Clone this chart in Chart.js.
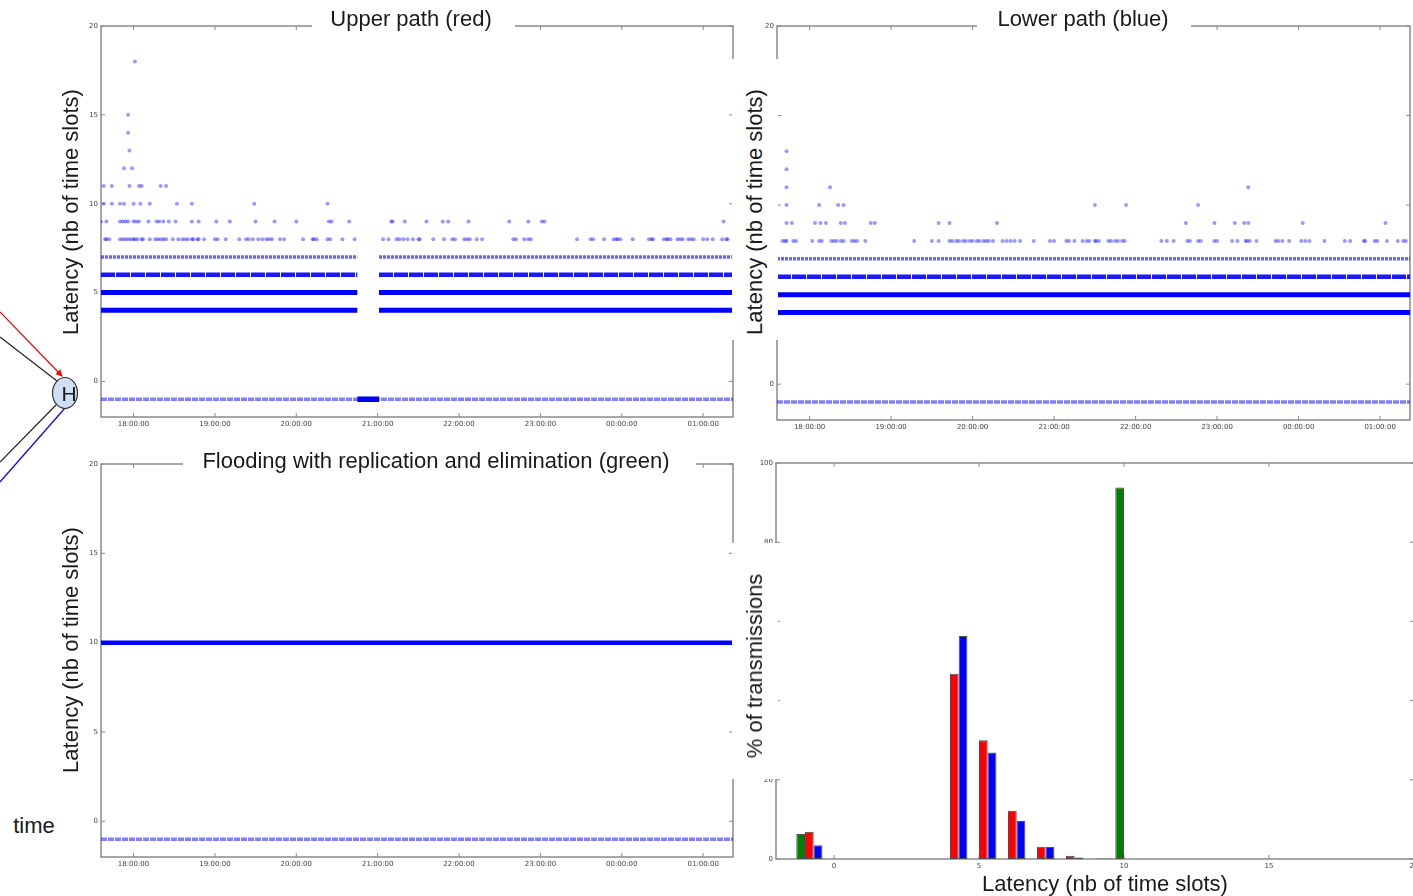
<!DOCTYPE html>
<html>
<head>
<meta charset="utf-8">
<script src="https://cdn.jsdelivr.net/npm/chart.js@4.4.0/dist/chart.umd.min.js"></script>
<style>
  html, body { margin: 0; padding: 0; width: 1413px; height: 896px; overflow: hidden; background: #fff; }
  body { position: relative; font-family: "Liberation Sans", Arial, sans-serif; color: #1a1a1a; }
  canvas { position: absolute; }
  .mask { position: absolute; background: #fff; }
  .txt { position: absolute; font-size: 22px; line-height: 26px; white-space: nowrap; transform: translate(-50%, -50%); }
  .rot { transform: translate(-50%, -50%) rotate(-90deg); }
</style>
</head>
<body>
<canvas id="upper" width="663" height="421" style="left:80px;top:16px"></canvas>
<canvas id="flood" width="663" height="423" style="left:80px;top:454px"></canvas>
<canvas id="lower" width="664" height="424" style="left:756px;top:16px"></canvas>
<canvas id="hist" width="669" height="426" style="left:755px;top:453px"></canvas>

<div class="mask" style="left:312px;top:8px;width:203px;height:24px"></div>
<div class="mask" style="left:977px;top:8px;width:214px;height:24px"></div>
<div class="mask" style="left:183px;top:451px;width:513px;height:24px"></div>
<div class="mask" style="left:732px;top:59px;width:46px;height:281px"></div>
<div class="mask" style="left:732px;top:543px;width:46px;height:236px"></div>

<div class="txt" style="left:411px;top:19px">Upper path (red)</div>
<div class="txt" style="left:1083px;top:19px">Lower path (blue)</div>
<div class="txt" style="left:436px;top:461px">Flooding with replication and elimination (green)</div>
<div class="txt rot" style="left:71px;top:212px">Latency (nb of time slots)</div>
<div class="txt rot" style="left:755px;top:212px">Latency (nb of time slots)</div>
<div class="txt rot" style="left:71px;top:650px">Latency (nb of time slots)</div>
<div class="txt rot" style="left:755px;top:666px">% of transmissions</div>
<div class="txt" style="left:1105px;top:884px">Latency (nb of time slots)</div>
<div class="txt" style="left:34px;top:826px">time</div>

<svg style="position:absolute;left:0;top:0" width="90" height="500">
  <defs>
    <marker id="ah" markerWidth="7" markerHeight="7" refX="6" refY="3.5" orient="auto" markerUnits="userSpaceOnUse">
      <path d="M0,0 L7,3.5 L0,7 z" fill="#ff0000"/>
    </marker>
  </defs>
  <line x1="0" y1="337" x2="57" y2="381" stroke="#222" stroke-width="1.2"/>
  <line x1="0" y1="312" x2="62" y2="376" stroke="#ff0000" stroke-width="1.2" marker-end="url(#ah)"/>
  <line x1="56" y1="405" x2="0" y2="462" stroke="#222" stroke-width="1.2"/>
  <line x1="65" y1="408" x2="0" y2="482" stroke="#0000ff" stroke-width="1.2"/>
  <ellipse cx="65" cy="393" rx="12.5" ry="15.5" fill="#cfe0f2" stroke="#333" stroke-width="1.2"/>
  <text x="69" y="401" font-size="21" font-family="Liberation Sans, Arial, sans-serif" text-anchor="middle" fill="#1a1a1a">H</text>
</svg>

<script>
// --- axes ---
const hourTicks = ['18:00:00', '19:00:00', '20:00:00', '21:00:00', '22:00:00', '23:00:00', '00:00:00', '01:00:00'];
const timeRange = ['17:36', '01:22'];
const latencyTicks = [0, 5, 10, 15, 20];

// --- upper path (red): dense bands + sparse outliers ---
const upperDenseSpans = [['17:36', '20:45'], ['21:01', '01:22']];
const upperDenseLatencies = [4, 5, 6, 7];
const upperLossSpans = [['17:36', '01:22']];
const upperLossBurst = [['20:45', '21:01']];
const upperLat8 = ['17:39', '17:40', '17:42', '17:50', '17:52', '17:54', '17:56', '17:58', '18:00', '18:01', '18:03', '18:06', '18:07', '18:12', '18:16', '18:18', '18:20', '18:22', '18:24', '18:29', '18:33', '18:36', '18:38', '18:40', '18:43', '18:44', '18:47', '18:48', '18:52', '19:00', '19:02', '19:08', '19:18', '19:23', '19:25', '19:28', '19:32', '19:35', '19:38', '19:40', '19:42', '19:48', '19:51', '20:05', '20:12', '20:13', '20:15', '20:23', '20:25', '20:34', '20:43', '21:04', '21:08', '21:14', '21:16', '21:19', '21:22', '21:26', '21:30', '21:31', '21:41', '21:49', '21:55', '21:57', '22:04', '22:06', '22:08', '22:13', '22:17', '22:40', '22:42', '22:48', '22:51', '22:53', '23:27', '23:37', '23:39', '23:47', '23:54', '23:56', '23:57', '23:59', '00:08', '00:20', '00:22', '00:23', '00:31', '00:33', '00:34', '00:36', '00:41', '00:43', '00:45', '00:49', '00:51', '00:53', '01:00', '01:03', '01:07', '01:14', '01:17', '01:18'];
const upperLat9 = ['17:36', '17:40', '17:50', '17:52', '17:54', '17:56', '18:00', '18:02', '18:04', '18:11', '18:17', '18:19', '18:22', '18:26', '18:31', '18:43', '18:48', '19:01', '19:11', '19:30', '19:44', '20:00', '20:24', '20:26', '20:39', '21:10', '21:11', '21:20', '21:36', '21:48', '21:52', '22:07', '22:37', '22:51', '23:01', '23:03', '01:15'];
const upperLat10 = ['17:38', '17:44', '17:50', '17:53', '18:00', '18:05', '18:12', '18:32', '18:43', '19:29', '20:23'];
const upperLat11 = ['17:38', '17:44', '17:57', '18:04', '18:06', '18:20', '18:24'];
const upperLat12 = ['17:53', '17:59'];
const upperLat13 = ['17:57'];
const upperLat14 = ['17:56'];
const upperLat15 = ['17:56'];
const upperLat18 = ['18:01'];

// --- lower path (blue) ---
const lowerDenseSpans = [['17:36', '01:22']];
const lowerDenseLatencies = [4, 5, 6, 7];
const lowerLossSpans = [['17:36', '01:22']];
const lowerLat8 = ['17:40', '17:42', '17:43', '17:48', '17:50', '18:02', '18:07', '18:09', '18:16', '18:18', '18:20', '18:23', '18:25', '18:31', '18:33', '18:35', '18:41', '19:17', '19:30', '19:35', '19:43', '19:45', '19:48', '19:50', '19:53', '19:55', '19:58', '20:00', '20:03', '20:05', '20:08', '20:10', '20:12', '20:15', '20:22', '20:25', '20:28', '20:31', '20:35', '20:45', '20:57', '21:00', '21:09', '21:11', '21:15', '21:21', '21:24', '21:26', '21:30', '21:31', '21:33', '21:40', '21:42', '21:45', '21:47', '21:50', '21:52', '22:19', '22:23', '22:28', '22:38', '22:40', '22:46', '22:48', '22:58', '23:00', '23:11', '23:15', '23:21', '23:22', '23:24', '23:29', '23:43', '23:45', '23:48', '23:53', '00:02', '00:05', '00:08', '00:19', '00:34', '00:38', '00:48', '00:49', '00:56', '00:58', '01:05', '01:13', '01:17', '01:19'];
const lowerLat9 = ['17:43', '17:47', '18:04', '18:08', '18:12', '18:23', '18:26', '18:45', '18:48', '19:35', '19:43', '20:18', '22:37', '22:58', '23:13', '23:20', '23:23', '00:03', '01:04'];
const lowerLat10 = ['17:43', '18:07', '18:21', '18:25', '21:30', '21:53', '22:46'];
const lowerLat11 = ['17:43', '18:15', '23:23'];
const lowerLat12 = ['17:43'];
const lowerLat13 = ['17:43'];

// --- flooding (green) ---
const floodDenseSpans = [['17:36', '01:22']];
const floodDenseLatencies = [10];
const floodLossSpans = [['17:36', '01:22']];

// --- histogram (% of transmissions per latency) ---
const histBins = [-1, 0, 1, 2, 3, 4, 5, 6, 7, 8, 9, 10];
const floodPct = [6.3, 0, 0, 0, 0, 0, 0, 0, 0, 0, 0, 93.8];
const upperPct = [6.9, 0, 0, 0, 0, 46.8, 30.0, 12.2, 3.1, 0.8, 0.1, 0];
const lowerPct = [3.5, 0, 0, 0, 0, 56.3, 26.9, 9.6, 3.0, 0.4, 0.1, 0];
const histXTicks = [0, 5, 10, 15, 20];
const histYTicks = [0, 20, 40, 60, 80, 100];

function hours(t) {
  const [h, m, s] = t.split(':').map(Number);
  return (h < 12 ? h + 24 : h) + m / 60 + (s || 0) / 3600;
}

function spanLine(spans, lat) {
  const pts = [];
  spans.forEach(([a, b]) => {
    pts.push({ x: hours(a), y: lat }, { x: hours(b), y: lat }, { x: hours(b), y: null });
  });
  return pts;
}

const blue = '#0000ff';
const bandStyle = {
  4: { w: 5, c: blue },
  5: { w: 5, c: blue },
  6: { w: 4.5, c: 'rgba(0,0,255,0.9)', dash: [14, 1] },
  7: { w: 3.5, c: 'rgba(0,0,255,0.6)', dash: [3, 1] },
  10: { w: 4.5, c: blue }
};

function bandDataset(spans, lat, st) {
  return {
    data: spanLine(spans, lat), showLine: true, pointRadius: 0,
    borderColor: st.c, borderWidth: st.w, borderDash: st.dash || [],
    borderCapStyle: 'butt', spanGaps: false
  };
}

function pointDataset(times, lat) {
  return {
    data: times.map(t => ({ x: hours(t), y: lat })), showLine: false,
    pointRadius: 2, pointStyle: 'circle', pointBorderWidth: 0,
    pointBackgroundColor: 'rgba(0,0,255,0.4)'
  };
}

function lossDataset(spans) {
  return bandDataset(spans, -1, { w: 3.5, c: 'rgba(0,0,255,0.5)', dash: [6, 1] });
}

const tickFont = { size: 7, family: 'DejaVu Sans' };

const framePlugin = {
  id: 'frame',
  beforeDatasetsDraw(chart) {
    const { ctx, chartArea: a, scales } = chart;
    ctx.save();
    ctx.strokeStyle = '#8a8a8a';
    ctx.lineWidth = 1.5;
    ctx.strokeRect(a.left, a.top, a.right - a.left, a.bottom - a.top);
    ctx.lineWidth = 1;
    ctx.beginPath();
    scales.x.ticks.forEach(t => {
      const p = scales.x.getPixelForValue(t.value);
      ctx.moveTo(p, a.bottom); ctx.lineTo(p, a.bottom - 4);
      ctx.moveTo(p, a.top); ctx.lineTo(p, a.top + 4);
    });
    scales.y.ticks.forEach(t => {
      const p = scales.y.getPixelForValue(t.value);
      ctx.moveTo(a.left, p); ctx.lineTo(a.left + 4, p);
      ctx.moveTo(a.right, p); ctx.lineTo(a.right - 4, p);
    });
    ctx.stroke();
    ctx.restore();
  }
};

function timeOptions() {
  return {
    responsive: false,
    animation: false,
    events: [],
    layout: { padding: { left: 0, right: 10, top: 10, bottom: 0 } },
    plugins: { legend: { display: false }, tooltip: { enabled: false } },
    scales: {
      x: {
        type: 'linear', min: hours(timeRange[0]), max: hours(timeRange[1]),
        grid: { display: false, drawTicks: false }, border: { display: false },
        afterBuildTicks: s => { s.ticks = hourTicks.map(t => ({ value: hours(t) })); },
        afterFit: s => { s.height = 20; },
        ticks: { callback: (v, i) => hourTicks[i], font: tickFont, color: '#444', maxRotation: 0, autoSkip: false, padding: 3 }
      },
      y: {
        type: 'linear', min: -2, max: 20,
        grid: { display: false, drawTicks: false }, border: { display: false },
        afterBuildTicks: s => { s.ticks = latencyTicks.map(v => ({ value: v })); },
        afterFit: s => { s.width = 21; },
        ticks: { font: tickFont, color: '#444', padding: 3 }
      }
    }
  };
}

// upper path
const upperSparse = [[8, upperLat8], [9, upperLat9], [10, upperLat10], [11, upperLat11], [12, upperLat12], [13, upperLat13], [14, upperLat14], [15, upperLat15], [18, upperLat18]];
new Chart(document.getElementById('upper'), {
  type: 'scatter',
  data: {
    datasets: [
      lossDataset(upperLossSpans),
      bandDataset(upperLossBurst, -1, { w: 5.5, c: blue }),
      ...upperDenseLatencies.map(l => bandDataset(upperDenseSpans, l, bandStyle[l])),
      ...upperSparse.map(([l, t]) => pointDataset(t, l))
    ]
  },
  options: timeOptions(),
  plugins: [framePlugin]
});

// lower path
const lowerSparse = [[8, lowerLat8], [9, lowerLat9], [10, lowerLat10], [11, lowerLat11], [12, lowerLat12], [13, lowerLat13]];
new Chart(document.getElementById('lower'), {
  type: 'scatter',
  data: {
    datasets: [
      lossDataset(lowerLossSpans),
      ...lowerDenseLatencies.map(l => bandDataset(lowerDenseSpans, l, bandStyle[l])),
      ...lowerSparse.map(([l, t]) => pointDataset(t, l))
    ]
  },
  options: timeOptions(),
  plugins: [framePlugin]
});

// flooding
new Chart(document.getElementById('flood'), {
  type: 'scatter',
  data: {
    datasets: [
      lossDataset(floodLossSpans),
      ...floodDenseLatencies.map(l => bandDataset(floodDenseSpans, l, bandStyle[l]))
    ]
  },
  options: timeOptions(),
  plugins: [framePlugin]
});

// histogram: matplotlib-style bars, group starts 0.3 left of each bin
const barOffset = 0.15;
function histSet(values, color) {
  return {
    data: histBins.map((b, i) => ({ x: b + barOffset, y: values[i] })),
    backgroundColor: color, borderColor: '#4d4d4d', borderWidth: 1, borderSkipped: false
  };
}
new Chart(document.getElementById('hist'), {
  type: 'bar',
  data: {
    datasets: [
      histSet(floodPct, '#008000'),
      histSet(upperPct, '#ff0000'),
      histSet(lowerPct, '#0000ff')
    ]
  },
  options: {
    responsive: false,
    animation: false,
    events: [],
    layout: { padding: { left: 0, right: 10, top: 10, bottom: 0 } },
    plugins: { legend: { display: false }, tooltip: { enabled: false } },
    datasets: { bar: { categoryPercentage: 0.9, barPercentage: 1.0, grouped: true } },
    scales: {
      x: {
        type: 'linear', min: -2, max: 20, offset: false,
        grid: { display: false, drawTicks: false, offset: false }, border: { display: false },
        afterBuildTicks: s => { s.ticks = histXTicks.map(v => ({ value: v })); },
        afterFit: s => { s.height = 20; },
        ticks: { font: tickFont, color: '#444', maxRotation: 0, autoSkip: false, padding: 3 }
      },
      y: {
        type: 'linear', min: 0, max: 100,
        grid: { display: false, drawTicks: false }, border: { display: false },
        afterBuildTicks: s => { s.ticks = histYTicks.map(v => ({ value: v })); },
        afterFit: s => { s.width = 21; },
        ticks: { font: tickFont, color: '#444', padding: 3 }
      }
    }
  },
  plugins: [framePlugin]
});
</script>
</body>
</html>
